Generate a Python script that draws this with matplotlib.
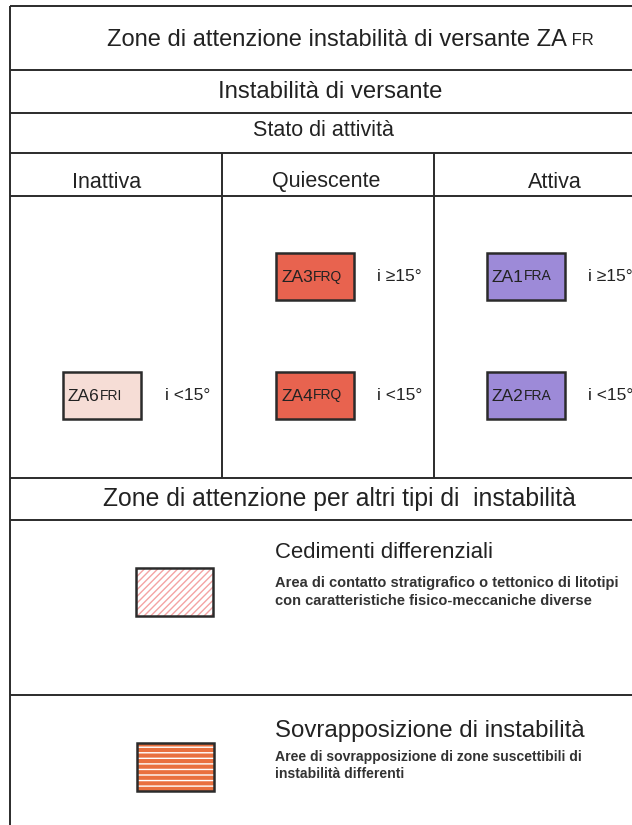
"""Legend table: zone di attenzione per instabilita di versante."""

import matplotlib.pyplot as plt
from matplotlib.patches import Rectangle

plt.rcParams["font.family"] = ["Liberation Sans", "DejaVu Sans"]

# ---- content -------------------------------------------------------------
TITLE = "Zone di attenzione instabilità di versante ZA"
TITLE_SUFFIX = "FR"
SECTION = "Instabilità di versante"
SUBSECTION = "Stato di attività"
COLUMNS = ["Inattiva", "Quiescente", "Attiva"]

zone_codes = ["ZA6", "ZA3", "ZA4", "ZA1", "ZA2"]
zone_suffix = ["FRI", "FRQ", "FRQ", "FRA", "FRA"]
zone_column = [0, 1, 1, 2, 2]
zone_slope = ["i <15°", "i ≥15°", "i <15°", "i ≥15°", "i <15°"]
column_colors = ["#f6ddd6", "#e8634f", "#9d8ad8"]

OTHER_TITLE = "Zone di attenzione per altri tipi di  instabilità"
other_titles = ["Cedimenti differenziali", "Sovrapposizione di instabilità"]
other_desc = [
    ["Area di contatto stratigrafico o tettonico di litotipi",
     "con caratteristiche fisico-meccaniche diverse"],
    ["Aree di sovrapposizione di zone suscettibili di",
     "instabilità differenti"],
]

# ---- layout (pixels) -----------------------------------------------------
W, H = 632, 825
LEFT = 10
row_lines = [6, 70, 113, 153, 196, 478, 520, 695]
col_lines = [222, 434]
col_centers = [107, 326, 555]
box_left = [63, 276, 487]
BOX_W, BOX_H = 78, 47
slope_rows = {"i ≥15°": 253, "i <15°": 372}
slope_x = [165, 377, 588]
LINE = "#2b2b2b"
TEXT = "#222222"

fig = plt.figure(figsize=(W / 100, H / 100), dpi=100)
ax = fig.add_axes([0, 0, 1, 1])
ax.set_xlim(0, W)
ax.set_ylim(H, 0)
ax.axis("off")

# grid lines
ax.vlines(LEFT, row_lines[0], H, color=LINE, lw=1.4)
ax.hlines(row_lines, LEFT, W, color=LINE, lw=1.4)
ax.vlines(col_lines, row_lines[3], row_lines[5], color=LINE, lw=1.4)

# headers
t = ax.text(107, 40, TITLE, fontsize=17, color=TEXT, ha="left", va="center")
ax.annotate(" " + TITLE_SUFFIX, xy=(1, 0.12), xycoords=t, fontsize=12,
            color=TEXT, ha="left", va="bottom")
ax.text(330, 92, SECTION, fontsize=17.2, color=TEXT, ha="center", va="center")
ax.text(323, 130, SUBSECTION, fontsize=15.5, color=TEXT, ha="center", va="center")
for x, name in zip(col_centers, COLUMNS):
    ax.text(x, 182, name, fontsize=15.5, color=TEXT, ha="center", va="center")

# zone boxes
for code, suffix, col, slope in zip(zone_codes, zone_suffix, zone_column, zone_slope):
    y = slope_rows[slope]
    ax.add_patch(Rectangle((box_left[col], y), BOX_W, BOX_H,
                           facecolor=column_colors[col], edgecolor=LINE, lw=1.8))
    label = ax.text(box_left[col] + 5, y + BOX_H / 2 + 1, code, fontsize=12.5,
                    color=TEXT, ha="left", va="center")
    ax.annotate(suffix, xy=(1, 0.1), xycoords=label, fontsize=10,
                color=TEXT, ha="left", va="bottom")
    ax.text(slope_x[col], y + BOX_H / 2, slope, fontsize=12.5, color=TEXT,
            ha="left", va="center")

# other instability types
ax.text(339, 499, OTHER_TITLE, fontsize=17.8, color=TEXT, ha="center", va="center")

hatch_box = [(136, 568), (137, 743)]
hatches = ["/////", "---"]
hatch_face = ["white", "#e9703f"]
hatch_edge = ["#f4a3a3", "white"]
title_y = [553, 731]
title_size = [15.9, 17.3]
desc_size = [10.5, 10.1]
desc_y = [[583, 601], [757, 774]]
for i in range(2):
    x, y = hatch_box[i]
    ax.add_patch(Rectangle((x, y), 77, 48, facecolor=hatch_face[i],
                           edgecolor=hatch_edge[i], hatch=hatches[i], lw=0))
    ax.add_patch(Rectangle((x, y), 77, 48, facecolor="none",
                           edgecolor=LINE, lw=1.8))
    ax.text(275, title_y[i], other_titles[i], fontsize=title_size[i], color=TEXT,
            ha="left", va="center")
    for line, ly in zip(other_desc[i], desc_y[i]):
        ax.text(275, ly, line, fontsize=desc_size[i], fontweight="bold",
                color="#333333", ha="left", va="center")

fig.savefig("out.png", dpi=100)
